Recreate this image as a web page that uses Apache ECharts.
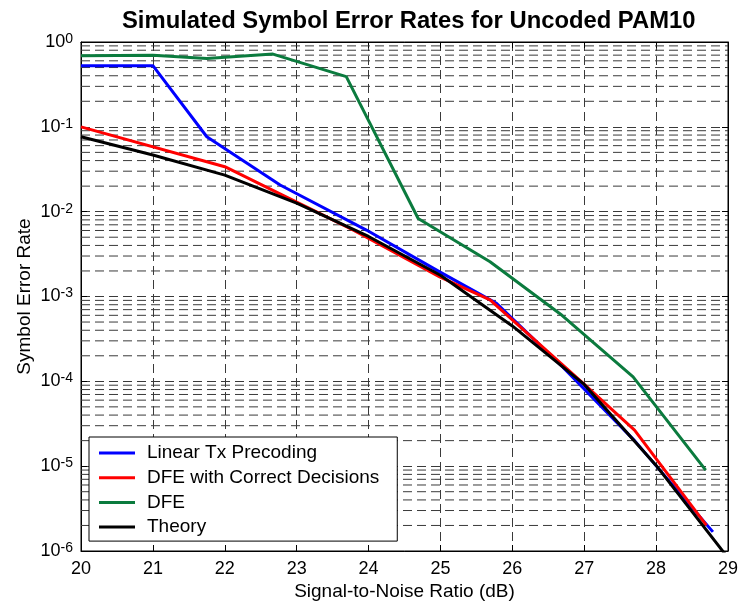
<!DOCTYPE html>
<html>
<head>
<meta charset="utf-8">
<script src="https://cdn.jsdelivr.net/npm/echarts@6/dist/echarts.min.js"></script>
<style>html,body{margin:0;padding:0;background:#fff;}#c{width:743px;height:604px;}</style>
</head>
<body>
<div id="c"></div>
<script>
// ---- data ----
const seriesNames = ['Linear Tx Precoding', 'DFE with Correct Decisions', 'DFE', 'Theory'];
const xTicks = [20, 21, 22, 23, 24, 25, 26, 27, 28, 29];
const yDecades = [1e-6, 1e-5, 1e-4, 1e-3, 1e-2, 1e-1, 1];

const linearTx = [[20,0.526],[21,0.526],[21.75,0.0764],[22.77,0.0206],[23.97,0.00607],[24.99,0.00195],[25.78,0.00083],[26.7,0.000148],[27.7,2.0e-5],[28.79,1.68e-6]];
const dfeCorrect = [[20,0.1],[22,0.0339],[23.79,0.00607],[24.99,0.0017],[25.69,0.00091],[26.99,9.4e-5],[27.7,2.66e-5],[28.7,2.0e-6]];
const dfe = [[20,0.69],[21,0.70],[21.75,0.64],[22.67,0.72],[23.69,0.39],[24.69,0.0083],[25.69,0.00257],[26.69,0.0006],[27.68,1.13e-4],[28.69,9.0e-6]];
const theory = [[20,0.0764],[21,0.0465],[22,0.027],[23,0.0126],[24,0.0051],[25,0.00178],[26,0.00045],[27,9.2e-5],[28,1.02e-5],[29,8.3e-7]];

const colors = ['#0000ff', '#ff0000', '#0b7b3e', '#000000'];

// minor log grid positions (2..9 within each decade)
const minorGrid = [];
for (let d = 0; d < yDecades.length - 1; d++) {
  for (let k = 2; k <= 9; k++) minorGrid.push(k * yDecades[d]);
}

const chart = echarts.init(document.getElementById('c'), null, { renderer: 'canvas' });
const font = '"Liberation Sans", Arial, Helvetica, sans-serif';
const gridDash = { color: '#3a3a3a', width: 1, type: [9, 5] };
const xMin = xTicks[0], xMax = xTicks[xTicks.length - 1];

function yLabel(v) {
  const e = Math.round(Math.log10(v));
  return '{a|10}{b|' + e + '}';
}

const gridSeries = minorGrid.map(v => ({
  type: 'line', data: [[xMin, v], [xMax, v]], symbol: 'none', silent: true, z: 1,
  lineStyle: gridDash, animation: false, tooltip: { show: false }
}));

const series = [
  { name: seriesNames[0], data: linearTx },
  { name: seriesNames[1], data: dfeCorrect },
  { name: seriesNames[2], data: dfe },
  { name: seriesNames[3], data: theory }
].map((s, i) => ({
  name: s.name, type: 'line', data: s.data, symbol: 'none', showSymbol: false,
  color: colors[i], lineStyle: { color: colors[i], width: 3 }, itemStyle: { color: colors[i] },
  z: 10 + i, clip: true, animation: false
}));

chart.setOption({
  animation: false,
  backgroundColor: '#fff',
  title: {
    text: 'Simulated Symbol Error Rates for Uncoded PAM10',
    left: 117, top: 4,
    textStyle: { fontFamily: font, fontSize: 23.8, fontWeight: 'bold', color: '#000' }
  },
  grid: { left: 81, right: 15, top: 42, bottom: 53, outerBoundsMode: 'none', containLabel: false, show: true, borderColor: '#000', borderWidth: 1, backgroundColor: 'transparent' },
  legend: {
    data: seriesNames, orient: 'vertical', left: 89, top: 437,
    icon: 'rect', itemWidth: 36, itemHeight: 3, itemGap: 4.7,
    padding: [6, 18, 4, 10],
    backgroundColor: '#fff', borderColor: '#000', borderWidth: 1,
    textStyle: { fontFamily: font, fontSize: 19, color: '#000', lineHeight: 20, padding: [0, 0, 0, 7] }
  },
  xAxis: [{
    type: 'value', min: xMin, max: xMax, interval: 1,
    name: 'Signal-to-Noise Ratio (dB)', nameLocation: 'middle', nameGap: 31, nameMoveOverlap: false,
    nameTextStyle: { fontFamily: font, fontSize: 19, color: '#000' },
    axisLine: { show: true, lineStyle: { color: '#000', width: 1 } },
    axisTick: { show: true, inside: true, length: 6, lineStyle: { color: '#000' } },
    axisLabel: { fontFamily: font, fontSize: 18, color: '#000', margin: 9 },
    splitLine: { show: true, lineStyle: gridDash }
  }, {
    type: 'value', min: xMin, max: xMax, interval: 1, position: 'top',
    axisLine: { show: true, lineStyle: { color: '#000' } },
    axisTick: { show: true, inside: true, length: 6, lineStyle: { color: '#000' } },
    axisLabel: { show: false }, splitLine: { show: false }
  }],
  yAxis: [{
    type: 'log', logBase: 10, min: 1e-6, max: 1,
    name: 'Symbol Error Rate', nameLocation: 'middle', nameGap: 47, nameMoveOverlap: false,
    nameTextStyle: { fontFamily: font, fontSize: 19, color: '#000' },
    axisLine: { show: true, lineStyle: { color: '#000', width: 1 } },
    axisTick: { show: true, inside: true, length: 6, lineStyle: { color: '#000' } },
    axisLabel: {
      formatter: yLabel, margin: 8,
      rich: {
        a: { fontFamily: font, fontSize: 18, color: '#000', lineHeight: 20 },
        b: { fontFamily: font, fontSize: 14, color: '#000', verticalAlign: 'top', lineHeight: 12 }
      }
    },
    splitLine: { show: true, lineStyle: gridDash },
    minorTick: { show: false }
  }, {
    type: 'log', logBase: 10, min: 1e-6, max: 1, position: 'right',
    axisLine: { show: true, lineStyle: { color: '#000' } },
    axisTick: { show: true, inside: true, length: 6, lineStyle: { color: '#000' } },
    axisLabel: { show: false }, splitLine: { show: false }
  }],
  series: gridSeries.concat(series)
});
</script>
</body>
</html>
